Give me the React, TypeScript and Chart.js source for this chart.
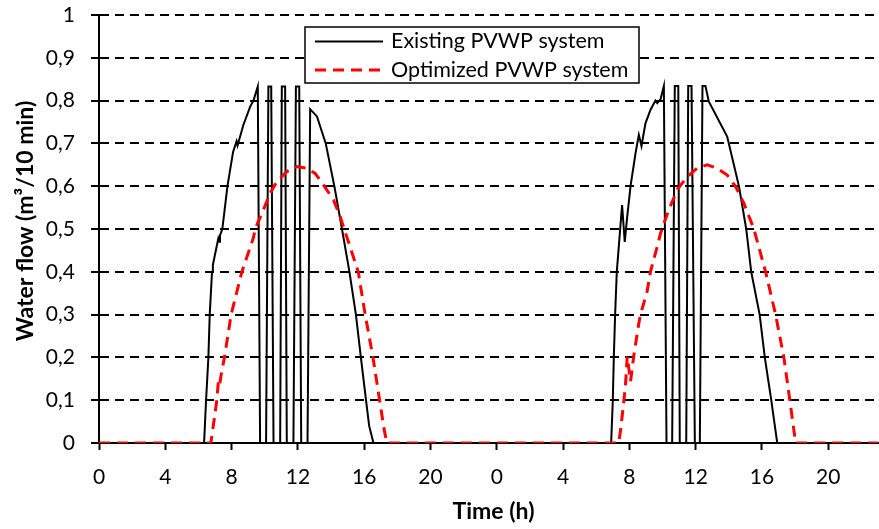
import React, { useEffect, useRef } from "react";
import { Chart, registerables } from "chart.js";

Chart.register(...registerables);

// Time in hours (two consecutive days) and water flow (m³/10 min)
const existingHours = [
  0, 6.34, 6.46, 6.6, 6.68, 6.82, 6.87, 7.2, 7.27, 7.3, 7.44, 7.75, 8.09, 8.3, 8.36, 8.71, 9.12, 9.32, 9.58,
  9.72, 10.08, 10.22, 10.39, 10.53, 10.93, 11.03, 11.23, 11.33, 11.73, 11.88, 12.08, 12.2, 12.58, 12.74,
  13.15, 13.68, 14.2, 14.66, 15.11, 15.5, 15.8, 16.11, 16.3, 16.56,
  30.9, 31.0, 31.06, 31.14, 31.24, 31.56, 31.72, 31.87, 32.07, 32.37, 32.57, 32.73, 32.97, 33.27, 33.57,
  33.68, 33.88, 34.08, 34.24, 34.58, 34.74, 34.95, 35.04, 35.43, 35.55, 35.75, 35.95, 36.25, 36.41, 36.59,
  36.79, 37.9, 38.61, 39.05, 39.35, 39.86, 40.17, 40.56, 40.92, 47,
];
const existingFlow = [
  0, 0, 0.1, 0.2, 0.3, 0.4, 0.416, 0.478, 0.47, 0.485, 0.5, 0.6, 0.68, 0.705, 0.695, 0.743, 0.786, 0.8, 0.833,
  0, 0, 0.833, 0.833, 0, 0, 0.833, 0.833, 0, 0, 0.833, 0.833, 0, 0, 0.78,
  0.763, 0.7, 0.6, 0.5, 0.4, 0.3, 0.2, 0.1, 0.04, 0,
  0, 0.1, 0.2, 0.3, 0.4, 0.556, 0.47, 0.529, 0.6, 0.677, 0.72, 0.694, 0.747, 0.778, 0.8,
  0.794, 0.803, 0.834, 0, 0, 0.834, 0.834, 0, 0, 0.834, 0.834, 0, 0, 0.834, 0.834,
  0.798, 0.716, 0.6, 0.5, 0.4, 0.3, 0.2, 0.1, 0, 0,
];

const optimizedHours = [
  0, 6.75, 7.11, 7.2, 7.28, 7.37, 7.57, 7.97, 8.62, 9.32, 9.42, 9.92, 10.33, 10.73, 11.33, 11.94, 12.54,
  13.04, 13.54, 14.15, 14.55, 14.79, 15.22, 15.64, 16.06, 16.53, 16.93, 17.21, 17.37,
  31.36, 31.5, 31.76, 31.87, 32.07, 32.26, 32.57, 32.67, 33.07, 33.27, 33.68, 33.88, 34.38, 34.89, 35.49,
  36.09, 36.7, 37.3, 37.9, 38.41, 38.91, 39.51, 40.22, 40.82, 41.32, 41.68, 42.03, 47,
];
const optimizedFlow = [
  0, 0, 0.1, 0.144, 0.135, 0.16, 0.2, 0.3, 0.4, 0.48, 0.5, 0.545, 0.584, 0.611, 0.634, 0.646, 0.642,
  0.63, 0.603, 0.568, 0.529, 0.5, 0.45, 0.4, 0.3, 0.2, 0.1, 0.03, 0,
  0, 0.04, 0.132, 0.202, 0.144, 0.202, 0.28, 0.3, 0.354, 0.4, 0.459, 0.49, 0.545, 0.592, 0.622,
  0.642, 0.65, 0.642, 0.626, 0.599, 0.56, 0.5, 0.4, 0.3, 0.2, 0.1, 0, 0,
];

const seriesLabels = ["Existing PVWP system", "Optimized PVWP system"];
const xTitle = "Time (h)";
const yTitle = "Water flow (m³/10 min)";

const FONT = "Lato, 'Open Sans', 'Noto Sans', sans-serif";
const RED_DASH = [11, 7];

const overlayPlugin = {
  id: "boxLegendAndTitles",
  afterDraw(chart: any) {
    const ctx = chart.ctx as CanvasRenderingContext2D;
    const area = chart.chartArea;
    ctx.save();
    // axis titles
    ctx.fillStyle = "#000";
    ctx.font = `bold 23px ${FONT}`;
    ctx.textAlign = "center";
    ctx.textBaseline = "middle";
    ctx.fillText(xTitle, (area.left + area.right) / 2 + 5, 512);
    ctx.save();
    ctx.translate(26, 221);
    ctx.rotate(-Math.PI / 2);
    ctx.fillText(yTitle, 0, 0);
    ctx.restore();

    // legend box
    const x = 305, y = 27, w = 334, h = 56;
    ctx.fillStyle = "#fff";
    ctx.fillRect(x, y, w, h);
    ctx.strokeStyle = "#000";
    ctx.lineWidth = 1.5;
    ctx.strokeRect(x, y, w, h);
    const rows = [
      { label: seriesLabels[0], color: "#000", width: 2, dash: [] as number[], yy: 41.5 },
      { label: seriesLabels[1], color: "#ff0000", width: 3, dash: RED_DASH, yy: 70 },
    ];
    for (const r of rows) {
      ctx.beginPath();
      ctx.setLineDash(r.dash);
      ctx.strokeStyle = r.color;
      ctx.lineWidth = r.width;
      ctx.moveTo(315, r.yy);
      ctx.lineTo(383, r.yy);
      ctx.stroke();
      ctx.setLineDash([]);
      ctx.fillStyle = "#000";
      ctx.font = `21.5px ${FONT}`;
      ctx.textBaseline = "middle";
      ctx.textAlign = "left";
      ctx.fillText(r.label, 391, r.yy);
    }
    ctx.restore();
  },
};

export default function App() {
  const ref = useRef<HTMLCanvasElement | null>(null);
  useEffect(() => {
    if (!ref.current) return;
    const existing = existingHours.map((h, i) => ({ x: h, y: existingFlow[i] }));
    const optimized = optimizedHours.map((h, i) => ({ x: h, y: optimizedFlow[i] }));
    const chart = new Chart(ref.current, {
      type: "line",
      data: {
        datasets: [
          {
            label: seriesLabels[0],
            data: existing,
            borderColor: "#000",
            borderWidth: 2,
            pointRadius: 0,
            tension: 0,
            order: 1,
          },
          {
            label: seriesLabels[1],
            data: optimized,
            borderColor: "#ff0000",
            borderWidth: 3,
            borderDash: RED_DASH,
            pointRadius: 0,
            tension: 0,
            order: 0,
          },
        ],
      },
      options: {
        responsive: false,
        animation: false,
        layout: { padding: { top: 15, right: 1, left: 0, bottom: 0 } },
        plugins: { legend: { display: false }, tooltip: { enabled: false } },
        scales: {
          x: {
            type: "linear",
            min: 0,
            max: 47,
            afterFit: (s: any) => { s.height = 86; },
            grid: { display: true, drawOnChartArea: false, drawTicks: true, tickLength: 7, color: "#000", tickWidth: 2 },
            border: { display: true, color: "#000", width: 2 },
            ticks: {
              stepSize: 4,
              includeBounds: false,
              autoSkip: false,
              maxRotation: 0,
              padding: 15,
              color: "#000",
              font: { family: FONT, size: 21 },
              callback: (v: any) => String(Number(v) % 24),
            },
            title: { display: false },
          },
          y: {
            min: 0,
            max: 1,
            afterFit: (s: any) => { s.width = 99; s.paddingTop = 0; s.paddingBottom = 0; },
            grid: { color: "#000", lineWidth: 2, tickLength: 8, tickWidth: 2 },
            border: { display: true, color: "#000", width: 2, dash: [9, 6] },
            ticks: {
              stepSize: 0.1,
              padding: 16,
              color: "#000",
              font: { family: FONT, size: 21 },
              callback: (v: any) => {
                const n = Number(v);
                if (Math.abs(n) < 1e-9) return "0";
                if (Math.abs(n - 1) < 1e-9) return "1";
                return n.toFixed(1).replace(".", ",");
              },
            },
            title: { display: false },
          },
        },
      },
      plugins: [overlayPlugin],
    });
    return () => chart.destroy();
  }, []);
  return (
    <div style={{ position: "fixed", left: 0, top: 0, width: 879, height: 529, background: "#fff" }}>
      <canvas ref={ref} width={879} height={529} style={{ width: 879, height: 529, display: "block" }} />
    </div>
  );
}
